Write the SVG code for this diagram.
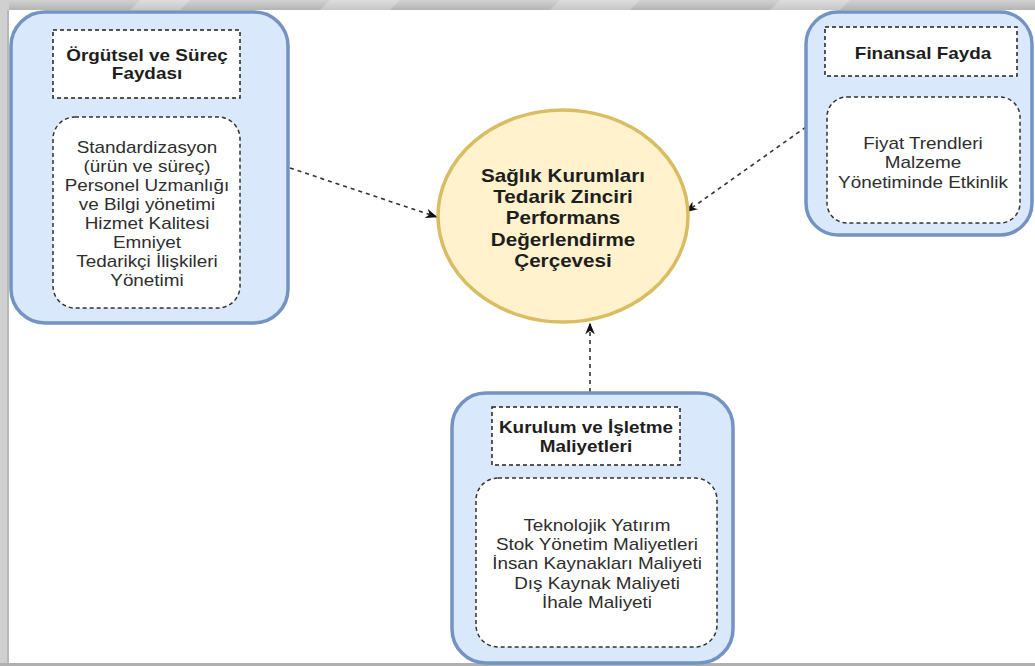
<svg xmlns="http://www.w3.org/2000/svg" width="1035" height="666" viewBox="0 0 1035 666">
  <defs>
    <style>
      .outer { fill: #dae8fc; stroke: #7393c3; stroke-width: 3.5; }
      .head { fill: #ffffff; stroke: #222; stroke-width: 1.5; stroke-dasharray: 4 3; }
      .body { fill: #ffffff; stroke: #333; stroke-width: 1.5; stroke-dasharray: 4 3; }
      .hub { fill: #fff2cc; stroke: #d9bd63; stroke-width: 3.5; }
      .conn { fill: none; stroke: #333; stroke-width: 1.6; stroke-dasharray: 4 4; }
      text { font-family: "Liberation Sans", Arial, sans-serif; text-anchor: middle; }
      .t-head { font-size: 16px; font-weight: bold; fill: #1e1e1e; }
      .t-body { font-size: 16px; fill: #2e2e2e; }
      .t-hub { font-size: 17.5px; font-weight: bold; fill: #1e1e1e; }
    </style>
    <marker id="arrow" viewBox="0 0 10 8" markerWidth="12" markerHeight="10" refX="9.5" refY="4" orient="auto" markerUnits="userSpaceOnUse">
      <path d="M0,0 L10,4 L0,8 L3,4 z" fill="#111"/>
    </marker>
    <linearGradient id="bandTop" x1="0" y1="0" x2="0" y2="1">
      <stop offset="0" stop-color="#d2d2d2"/>
      <stop offset="1" stop-color="#b4b4b4"/>
    </linearGradient>
  </defs>

  <!-- page background and frame -->
  <rect x="0" y="0" width="1035" height="666" fill="#ffffff"/>
  <rect x="0" y="0" width="1035" height="10" fill="url(#bandTop)"/>
  <g fill="#ffffff" opacity="0.25">
    <polygon points="140,0 190,0 180,10 130,10"/>
    <polygon points="330,0 400,0 390,10 320,10"/>
    <polygon points="560,0 640,0 630,10 550,10"/>
    <polygon points="780,0 850,0 840,10 770,10"/>
  </g>
  <rect x="0" y="0" width="9" height="666" fill="#d0d0d0"/>
  <rect x="7" y="10" width="2" height="653" fill="#b8b8b8"/>
  <rect x="0" y="663" width="1035" height="3" fill="#b0b0b0"/>

  <!-- connectors -->
  <g id="connectors">
    <path class="conn" d="M290,168 L437,217" marker-end="url(#arrow)"/>
    <path class="conn" d="M806,127 L686,212" marker-end="url(#arrow)"/>
    <path class="conn" d="M590,392 L590,323" marker-end="url(#arrow)"/>
  </g>

  <!-- central node -->
  <g id="hub">
    <ellipse class="hub" cx="563" cy="216" rx="125" ry="106"/>
    <g transform="translate(563,0) scale(1.18,1)">
      <text class="t-hub" x="0" y="182">Sağlık Kurumları</text>
      <text class="t-hub" x="0" y="203">Tedarik Zinciri</text>
      <text class="t-hub" x="0" y="224">Performans</text>
      <text class="t-hub" x="0" y="246">Değerlendirme</text>
      <text class="t-hub" x="0" y="267">Çerçevesi</text>
    </g>
  </g>

  <!-- organisational and process benefit -->
  <g id="node-orgutsel">
    <rect class="outer" x="11" y="12" width="277" height="311" rx="34" ry="34"/>
    <rect class="head" x="53" y="30" width="187" height="68"/>
    <rect class="body" x="53" y="117" width="187" height="191" rx="22" ry="22"/>
    <g transform="translate(147,0) scale(1.18,1)">
      <text class="t-head" x="0" y="61">Örgütsel ve Süreç</text>
      <text class="t-head" x="0" y="79">Faydası</text>
      <text class="t-body" x="0" y="153">Standardizasyon</text>
      <text class="t-body" x="0" y="172">(ürün ve süreç)</text>
      <text class="t-body" x="0" y="191">Personel Uzmanlığı</text>
      <text class="t-body" x="0" y="210">ve Bilgi yönetimi</text>
      <text class="t-body" x="0" y="229">Hizmet Kalitesi</text>
      <text class="t-body" x="0" y="248">Emniyet</text>
      <text class="t-body" x="0" y="267">Tedarikçi İlişkileri</text>
      <text class="t-body" x="0" y="286">Yönetimi</text>
    </g>
  </g>

  <!-- financial benefit -->
  <g id="node-finansal">
    <rect class="outer" x="806" y="12" width="226" height="223" rx="32" ry="32"/>
    <rect class="head" x="825" y="27" width="192" height="49"/>
    <rect class="body" x="827" y="97" width="193" height="126" rx="20" ry="20"/>
    <g transform="translate(923,0) scale(1.18,1)">
      <text class="t-head" x="0" y="59">Finansal Fayda</text>
      <text class="t-body" x="0" y="149">Fiyat Trendleri</text>
      <text class="t-body" x="0" y="168">Malzeme</text>
      <text class="t-body" x="0" y="188">Yönetiminde Etkinlik</text>
    </g>
  </g>

  <!-- setup and operating costs -->
  <g id="node-maliyet">
    <rect class="outer" x="452" y="393" width="281" height="270" rx="34" ry="34"/>
    <rect class="head" x="492" y="407" width="188" height="58"/>
    <rect class="body" x="476" y="478" width="241" height="169" rx="22" ry="22"/>
    <g transform="translate(586,0) scale(1.18,1)">
      <text class="t-head" x="0" y="433">Kurulum ve İşletme</text>
    </g>
    <g transform="translate(586,0) scale(1.18,1)">
      <text class="t-head" x="0" y="452">Maliyetleri</text>
    </g>
    <g transform="translate(597,0) scale(1.18,1)">
      <text class="t-body" x="0" y="531">Teknolojik Yatırım</text>
      <text class="t-body" x="0" y="550">Stok Yönetim Maliyetleri</text>
      <text class="t-body" x="0" y="569">İnsan Kaynakları Maliyeti</text>
      <text class="t-body" x="0" y="589">Dış Kaynak Maliyeti</text>
      <text class="t-body" x="0" y="608">İhale Maliyeti</text>
    </g>
  </g>
</svg>
